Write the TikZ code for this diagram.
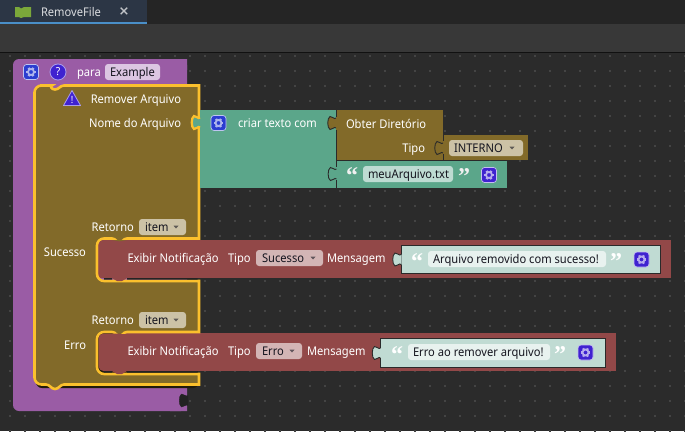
\documentclass[tikz,border=0pt]{standalone}
\usepackage{fontspec}
\setmainfont[FakeStretch=0.93]{Noto Sans}
\newfontfamily\glyphfont{DejaVu Sans}
\newfontfamily\quotefont{Liberation Serif}
\definecolor{bgcanvas}{HTML}{2B2B2B}
\definecolor{griddot}{HTML}{444444}
\definecolor{topbar}{HTML}{252525}
\definecolor{tabbg}{HTML}{2C3645}
\definecolor{tabline}{HTML}{4A8FC8}
\definecolor{tabicon}{HTML}{7BA83A}
\definecolor{toolbar}{HTML}{383838}
\definecolor{purpleblock}{HTML}{9A5CA5}
\definecolor{brownblock}{HTML}{826A29}
\definecolor{tealblock}{HTML}{5BA68A}
\definecolor{redblock}{HTML}{924848}
\definecolor{paleblock}{HTML}{C0DBD3}
\definecolor{hilite}{HTML}{FBC02D}
\definecolor{edgeline}{HTML}{2A2A2A}
\definecolor{fpurple}{HTML}{DCC6E2}
\definecolor{fbrown}{HTML}{CCC2A6}
\definecolor{fred}{HTML}{D3B5B5}
\definecolor{fteal}{HTML}{BEDBD2}
\definecolor{fpale}{HTML}{E8F2EF}
\definecolor{iconblue}{HTML}{2B3DD0}
\definecolor{iconindigo}{HTML}{3F22D0}
\definecolor{txtdark}{HTML}{15151F}
\tikzset{
  x=1pt,y=-1pt,
  lbl/.style={font=\fontsize{12}{12}\selectfont,text=white,inner sep=0pt,outer sep=0pt,anchor=base west},
  lblr/.style={lbl,anchor=base east},
  fld/.style={lbl,text=txtdark},
  quotemark/.style={inner sep=0pt,outer sep=0pt,text=white!88!gray,font=\quotefont\fontsize{24}{24}\selectfont\bfseries,anchor=base west},
  edge/.style={draw=edgeline,line width=0.9pt},
}
\newcommand\pztab[4]{%
  \fill[#3] (#1+0.5,#2+2) .. controls (#1-2,#2+4) and (#1-3,#2+0) .. (#1-6,#2+0.5)
     .. controls (#1-9,#2+2) and (#1-9,#2+12) .. (#1-6,#2+13.5)
     .. controls (#1-3,#2+14) and (#1-2,#2+10) .. (#1+0.5,#2+12) -- cycle;
  \draw[#4] (#1,#2+2) .. controls (#1-2,#2+4) and (#1-3,#2+0) .. (#1-6,#2+0.5)
     .. controls (#1-9,#2+2) and (#1-9,#2+12) .. (#1-6,#2+13.5)
     .. controls (#1-3,#2+14) and (#1-2,#2+10) .. (#1,#2+12);
}
\newcommand\gearicon[3]{%
  \fill[#3,draw=white!70!#3,line width=0.7pt,rounded corners=3pt] (#1-7.5,#2-7.5) rectangle (#1+7.5,#2+7.5);
  \foreach \a in {0,60,...,300}{\draw[white!62!#3,line width=2.2pt] (#1,#2) ++(\a:2.6) -- ++(\a:2.2);}
  \draw[white!62!#3,line width=1.8pt] (#1,#2) circle[radius=3];
}
\newcommand\dropmark[3]{\fill[#3] (#1-2.5,#2-1.3) -- (#1+2.5,#2-1.3) -- (#1,#2+1.5) -- cycle;}
\begin{document}
\begin{tikzpicture}
\useasboundingbox (0,0) rectangle (685,431);
% window chrome
\fill[bgcanvas] (0,0) rectangle (685,431);
\foreach \gx in {10,25,...,685}{\foreach \gy in {56,71,...,431}{\fill[griddot] (\gx-1,\gy-1) rectangle (\gx+1,\gy+1);}}
\fill[topbar] (0,0) rectangle (685,24);
\fill[tabbg] (0,0) rectangle (147,22);
\fill[tabline] (0,22) rectangle (147,24);
\fill[toolbar] (0,24) rectangle (685,52);
\fill[black!70!toolbar] (0,52) rectangle (685,53);
\fill[tabicon] (15,7) -- (19,7) -- (21,8.5) -- (24,7) -- (31,7) -- (31,17) -- (24,17) -- (21,18) -- (19,17) -- (15,17) -- cycle;
\node[lbl,text=white!82!tabbg] (tabtitle) at (41,16.5) {RemoveFile};
\node[inner sep=0pt,text=white!70!tabbg,font=\glyphfont\fontsize{13}{13}\selectfont\bfseries] (tabclose) at (124,12) {×};
% purple procedure block
\fill[purpleblock,rounded corners=6pt] (13,59) -- (187,59) -- (187,411) -- (13,411) -- cycle;
\fill[purpleblock] (170,59) rectangle (187,70) (170,400) rectangle (187,411);
\pztab{187.5}{393.5}{bgcanvas!80!black}{bgcanvas!80!black}
% red notification blocks
\fill[redblock] (97,240) rectangle (671,278);
\fill[redblock] (97,333) rectangle (616,371);
% brown shadow
\fill[black!75!brownblock,rounded corners=6pt] (36,300) -- (36,388) -- (199,388) -- (199,370) -- cycle;
% brown block with yellow outline
\begin{scope}[rounded corners=6pt]
\path[fill=brownblock,draw=hilite,line width=2.6pt]
  (34.5,85.5) -- (46,85.5) [sharp corners] .. controls (50,85.5) and (51,89.5) .. (55,89.5) .. controls (59,89.5) and (60,85.5) .. (64,85.5) [rounded corners=0pt] -- (199,85.5) -- (199,238.5)
  -- (127,238.5) .. controls (123,238.5) and (123,242.5) .. (119.5,242.5) .. controls (116,242.5) and (116,238.5) .. (112,238.5)
  [rounded corners=7pt] -- (97,238.5) -- (97,281) [rounded corners=0pt] -- (199,281) -- (199,332)
  -- (127,332) .. controls (123,332) and (123,336) .. (119.5,336) .. controls (116,336) and (116,332) .. (112,332)
  [rounded corners=7pt] -- (97,332) -- (97,374) [rounded corners=0pt] -- (199,374) -- (199,384.5)
  -- (64,384.5) .. controls (60,384.5) and (59,389) .. (55,389) .. controls (51,389) and (50,384.5) .. (46,384.5)
  [rounded corners=7pt] -- (34.5,384.5) -- cycle;
\end{scope}
% red left ends re-filled inside the outline
\fill[redblock,rounded corners=5pt] (98.5,240) -- (125,240) -- (125,278) -- (98.5,278) -- cycle;
\fill[redblock] (110,240) rectangle (198,278);
\fill[brownblock] (112,240) .. controls (116,240) and (116,241.3) .. (119.5,241.3) .. controls (123,241.3) and (123,240) .. (127,240) -- cycle;
\fill[redblock,rounded corners=5pt] (98.5,333.5) -- (125,333.5) -- (125,371) -- (98.5,371) -- cycle;
\fill[redblock] (110,333.5) rectangle (198,371);
\fill[bgcanvas!85!black] (104,278) rectangle (112,279.7) (127,278) rectangle (197.7,279.7);
\fill[redblock] (112,278) -- (127,278) -- (122,281) -- (117,281) -- cycle;
\fill[bgcanvas!85!black] (104,371) rectangle (112,372.7) (127,371) rectangle (197.7,372.7);
\fill[redblock] (112,371) -- (127,371) -- (122,374) -- (117,374) -- cycle;
% teal text block
\fill[tealblock] (200,110) rectangle (336,188);
\fill[hilite] (197.7,110) rectangle (200.3,188);
\pztab{200}{115.5}{tealblock}{hilite,line width=2.2pt}
\gearicon{218.5}{123}{iconblue}
% getter
\fill[brownblock] (336,110) rectangle (443,160);
\draw[edge] (336,110) -- (336,117) (336,130) -- (336,188);
\pztab{336}{116}{brownblock}{edge}
\fill[brownblock] (443,135) rectangle (528,160);
\draw[edge] (443,135) -- (443,141) (443,154) -- (443,160);
\pztab{443}{141}{brownblock}{edge}
\draw[edge] (336,160.5) -- (507,160.5);
\fill[tealblock] (336.4,161) rectangle (507,188);
\draw[edge] (336,161) -- (336,167) (336,180) -- (336,188);
\pztab{336.4}{167}{tealblock}{edge}
% pale text blocks
\fill[paleblock,draw=edgeline,line width=0.9pt] (401,245.5) rectangle (660.5,273);
\pztab{401}{252.5}{paleblock}{edge}
\fill[paleblock,draw=edgeline,line width=0.9pt] (380.5,338.5) rectangle (605,367);
\pztab{380.5}{346}{paleblock}{edge}
% fields
\fill[fpurple,rounded corners=3pt] (105,64) rectangle (160,80);
\fill[fbrown,rounded corners=3pt] (449,140) rectangle (523,156);
\fill[fbrown,rounded corners=3pt] (139,219) rectangle (186,235);
\fill[fbrown,rounded corners=3pt] (139,312) rectangle (186,328);
\fill[fred,rounded corners=3pt] (256,250) rectangle (323,266);
\fill[fred,rounded corners=3pt] (256,343) rectangle (302,359);
\fill[fteal,rounded corners=3pt] (363,166) rectangle (453,182);
\fill[fpale,rounded corners=3pt] (428,251) rectangle (606,267);
\fill[fpale,rounded corners=3pt] (408,344) rectangle (550,360);
\dropmark{512}{148}{txtdark!60!fbrown}
\dropmark{176}{227}{txtdark!60!fbrown}
\dropmark{176}{320}{txtdark!60!fbrown}
\dropmark{313}{258}{txtdark!60!fred}
\dropmark{292}{351}{txtdark!60!fred}
% icons
\gearicon{31}{72}{iconblue}
\fill[iconindigo,draw=white!55!iconindigo,line width=0.8pt] (58,72) circle[radius=8];
\node[inner sep=0pt,text=white,font=\fontsize{11}{11}\selectfont\bfseries] (helpmark) at (58,72) {?};
\fill[iconindigo,draw=white!55!iconindigo,line width=0.8pt,line join=round] (72,90.5) -- (80.5,105.5) -- (63.5,105.5) -- cycle;
\node[inner sep=0pt,text=white,font=\fontsize{10}{10}\selectfont\bfseries] (warnmark) at (72,99.5) {!};
\gearicon{489}{175}{iconindigo}
\gearicon{641.5}{259.5}{iconindigo}
\gearicon{585.5}{352.5}{iconindigo}
% labels
\node[lbl] (para) at (77,76.5) {para};
\node[fld] (example) at (110,76.5) {Example};
\node[lblr] (remover) at (181,103) {Remover Arquivo};
\node[lblr] (nome) at (181,127.5) {Nome do Arquivo};
\node[lbl] (criar) at (238,127.5) {criar texto com};
\node[lbl] (obter) at (346,128) {Obter Diretório};
\node[lblr] (tipoa) at (425,152.5) {Tipo};
\node[fld] (interno) at (454,152.5) {INTERNO};
\node[quotemark] (qa) at (346,183.5) {“};
\node[fld] (meu) at (368,178.5) {meuArquivo.txt};
\node[quotemark] (qb) at (458,184) {”};
\node[lblr] (reta) at (134,231) {Retorno};
\node[fld] (itema) at (145,231) {item};
\node[lblr] (suc) at (86,256.5) {Sucesso};
\node[lbl] (exa) at (127.5,262.5) {Exibir Notificação};
\node[lbl] (tipob) at (228,262.5) {Tipo};
\node[fld] (sucf) at (262,262.5) {Sucesso};
\node[lbl] (mena) at (327,262.5) {Mensagem};
\node[quotemark,text=white] (qc) at (411,269.5) {“};
\node[fld] (msga) at (433,263.5) {Arquivo removido com sucesso!};
\node[quotemark,text=white] (qd) at (610,269.5) {”};
\node[lblr] (retb) at (134,324) {Retorno};
\node[fld] (itemb) at (145,324) {item};
\node[lblr] (err) at (86,349.5) {Erro};
\node[lbl] (exb) at (127.5,355.5) {Exibir Notificação};
\node[lbl] (tipoc) at (228,355.5) {Tipo};
\node[fld] (errf) at (262,355.5) {Erro};
\node[lbl] (menb) at (307,355.5) {Mensagem};
\node[quotemark,text=white] (qe) at (391,362.5) {“};
\node[fld] (msgb) at (413,356.5) {Erro ao remover arquivo!};
\node[quotemark,text=white] (qf) at (554,362.5) {”};
\end{tikzpicture}
\end{document}
